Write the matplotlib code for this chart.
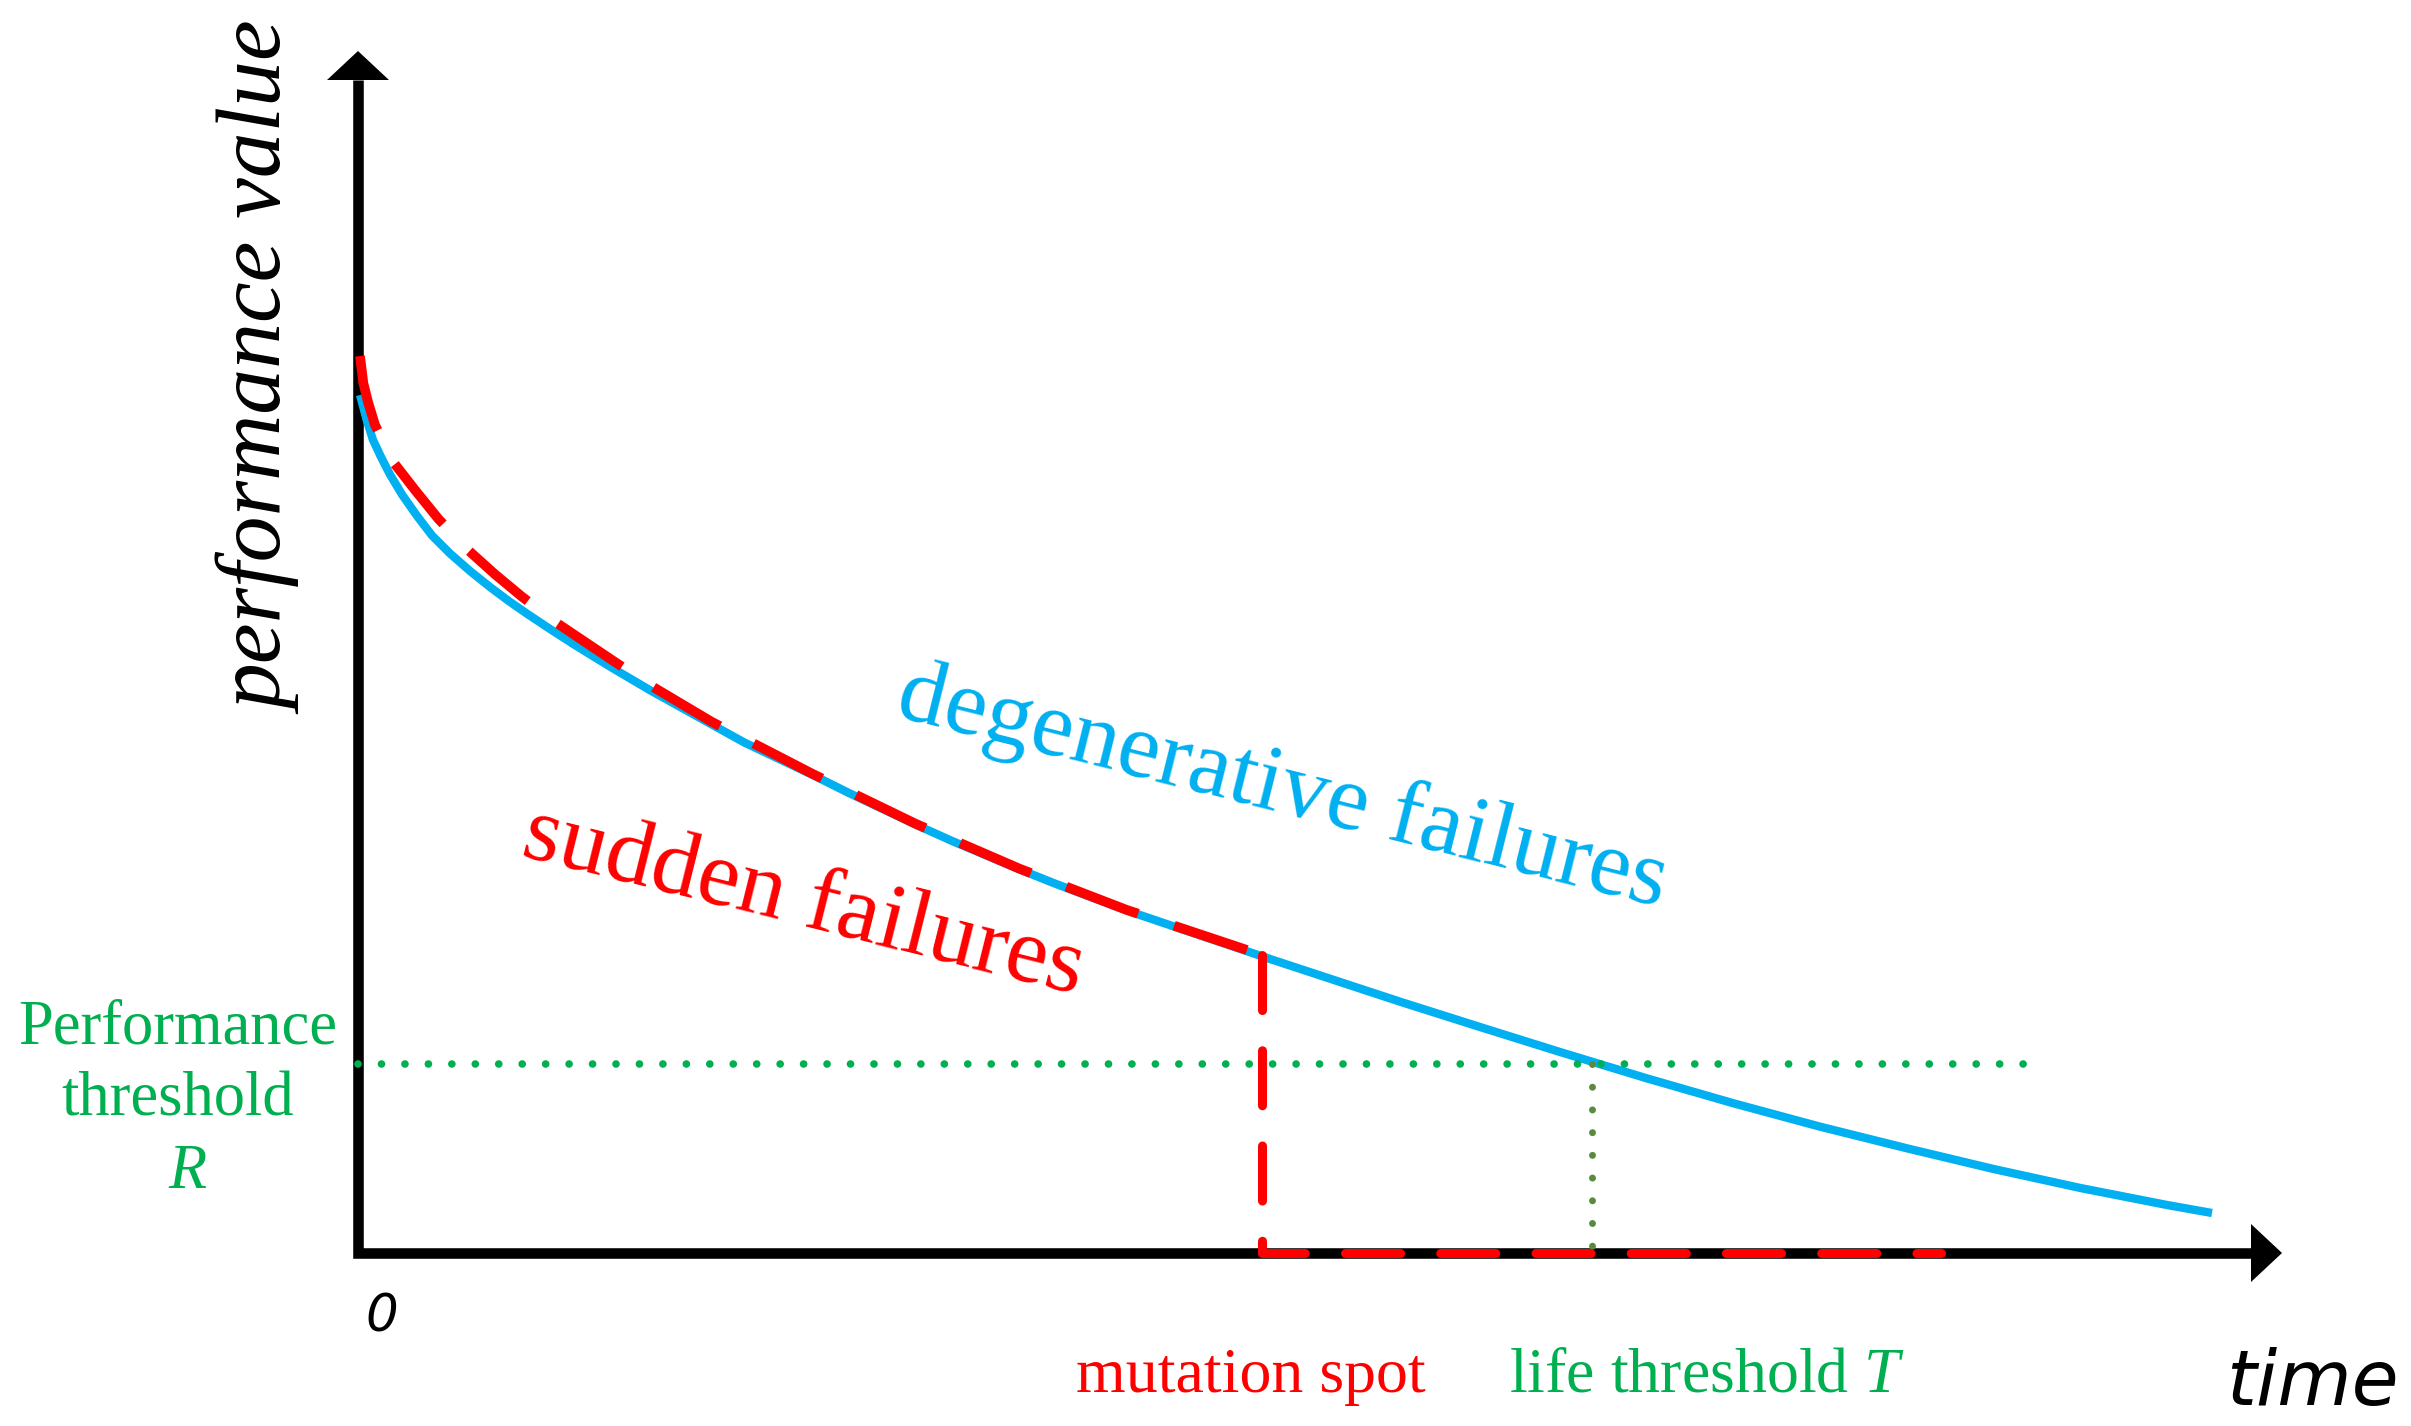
import matplotlib
matplotlib.use("Agg")
import matplotlib.pyplot as plt

# degradation curve (time, performance)
blue_t = [0.2, 0.87, 1.5, 2.3, 3.2, 4.4, 5.87, 7.4, 9.2, 11.2, 13.2, 15.0,
          16.87, 19.2, 21.53, 24.2, 25.77, 29.34, 35.4, 38.63, 45.4, 48.99,
          55.77, 59.34, 66.13, 69.7, 76.84, 90.9, 104.3, 112.2, 120.2,
          128.87, 137.55, 146.22, 154.89, 163.56, 172.24, 180.91, 185.4]
blue_p = [85.8, 83.3, 81.3, 79.6, 77.85, 75.85, 73.75, 71.75, 69.95, 68.2,
          66.6, 65.25, 63.95, 62.4, 60.9, 59.25, 58.3, 56.2, 52.84, 51.05,
          47.84, 46.05, 42.84, 41.23, 38.37, 36.94, 34.26, 29.5, 25.1, 22.6,
          20.1, 17.47, 14.97, 12.63, 10.47, 8.4, 6.5, 4.8, 4.0]

# sudden failure path: curve up to the mutation spot, then drop to zero
red_t = [0.2, 0.53, 1.0, 1.7, 3.6, 5.7, 8.05, 11.0, 13.7, 16.4, 19.7, 25.5,
         29.34, 35.4, 45.4, 55.77, 66.13, 76.84, 90.4]
red_p = [89.7, 87.0, 85.1, 82.8, 79.0, 76.3, 73.4, 70.3, 67.87, 65.63, 63.12,
         59.23, 56.7, 53.1, 47.94, 42.92, 38.44, 34.32, 29.8]
mutation_t = 90.4
sudden_end_t = 158.3

threshold_R = 18.9
life_T = 123.4
threshold_end_t = 167.6

blue = '#00B0F0'
red = '#FF0000'
green = '#00B050'
olive = '#5A8A3C'
serif = 'Liberation Serif'

plt.rcParams['mathtext.fontset'] = 'custom'
plt.rcParams['mathtext.rm'] = 'Liberation Serif'
plt.rcParams['mathtext.it'] = 'Liberation Serif:italic'

fig = plt.figure(figsize=(24.11, 14.26), dpi=100)
ax = fig.add_axes([0, 0, 1, 1])
ax.set_xlim(-35.8, 205.3)
ax.set_ylim(-17.3, 125.3)
ax.axis('off')

# axes with arrow heads
ax.plot([0, 0, 189.3], [117.3, 0, 0], color='black', lw=7.6,
        solid_joinstyle='miter', solid_capstyle='butt', zorder=2)
ax.fill([-3.1, 3.1, 0], [117.3, 117.3, 120.2], color='black', lw=0, zorder=2)
ax.fill([189.3, 189.3, 192.4], [-2.9, 2.9, 0], color='black', lw=0, zorder=2)

# curves
ax.plot(blue_t, blue_p, color=blue, lw=6, solid_capstyle='butt',
        solid_joinstyle='round', zorder=3)
ax.plot(red_t, red_p, color=red, lw=7, dashes=(7.9, 3.9),
        dash_capstyle='butt', zorder=4)
ax.plot([mutation_t, mutation_t, sudden_end_t], [red_p[-1], 0, 0],
        color=red, lw=6.5, dashes=(6.1, 4.45), dash_capstyle='round', zorder=5)

# thresholds
ax.plot([0, threshold_end_t], [threshold_R, threshold_R], color=green, lw=5.5,
        dashes=(0.01, 3.06), dash_capstyle='round', zorder=4)
ax.plot([life_T, life_T], [threshold_R, 0.7], color=olive, lw=5,
        dashes=(0.01, 3.26), dash_capstyle='round', zorder=4)

# labels
ax.text(-9.5, 88.4, 'performance value', rotation=90, ha='center', va='center',
        family=serif, style='italic', fontsize=66)
ax.text(92.5, 46.4, 'degenerative failures', rotation=-14, ha='center',
        va='center', family=serif, fontsize=68, color=blue)
ax.text(44.6, 35.0, 'sudden failures', rotation=-14, ha='center',
        va='center', family=serif, fontsize=68, color=red)

ax.text(-18.0, 20.9, 'Performance', ha='center', va='baseline',
        family=serif, fontsize=45, color=green)
ax.text(-18.0, 13.7, 'threshold', ha='center', va='baseline',
        family=serif, fontsize=45, color=green)
ax.text(-17.0, 6.5, '$R$', ha='center', va='baseline',
        fontsize=45, color=green)

ax.text(71.8, -13.9, 'mutation spot', ha='left', va='baseline',
        family=serif, fontsize=46, color=red)
ax.text(115.1, -13.9, 'life threshold $T$', ha='left', va='baseline',
        family=serif, fontsize=46, color=green)

ax.text(186.8, -15.2, 'time', ha='left', va='baseline',
        family='DejaVu Sans', style='italic', fontsize=55)
ax.text(2.4, -7.9, '0', ha='center', va='baseline',
        family='DejaVu Sans', style='italic', fontsize=37)

plt.savefig('out.png', dpi=100)
